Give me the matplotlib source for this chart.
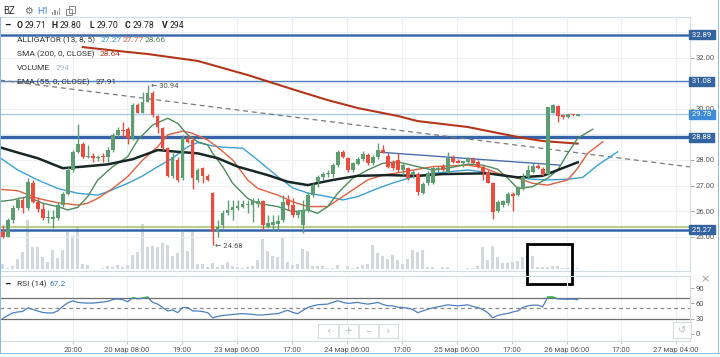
import matplotlib
matplotlib.use('Agg')
import matplotlib.pyplot as plt
import matplotlib.transforms as mtransforms
from matplotlib.patches import Rectangle
import numpy as np

# ---------------- DATA ----------------
opens = [25.19,25.00,25.66,26.11,26.44,26.11,27.11,26.37,26.07,25.72,25.68,25.72,26.24,26.67,27.61,28.33,28.63,28.13,28.16,28.07,
         28.16,28.13,28.39,28.98,29.17,29.20,28.85,30.15,29.85,30.28,30.63,29.72,29.24,28.46,27.38,28.00,27.28,28.85,28.78,27.22,
         27.67,27.38,26.72,25.24,25.46,25.92,26.05,26.11,26.18,26.26,26.26,26.30,26.40,25.40,25.46,25.50,25.66,26.44,26.24,25.85,
         25.46,26.05,26.63,27.15,27.32,27.45,27.45,27.80,28.33,28.07,27.61,27.85,28.03,28.20,27.87,28.10,28.39,28.16,27.93,28.00,
         27.61,27.67,27.41,27.45,26.72,27.09,27.11,27.61,27.77,27.54,28.07,27.97,27.90,27.93,28.03,27.93,27.74,27.54,27.11,26.02,
         26.24,26.31,26.67,26.63,26.85,27.32,27.54,27.77,27.64,27.45,29.85,30.11,29.76,29.69,29.78,29.71]
highs = [25.45,25.75,26.24,26.57,26.57,27.28,27.22,26.57,26.31,26.05,26.05,26.37,26.76,27.74,28.39,29.41,28.72,28.59,28.26,28.20,
         28.26,28.50,29.04,29.30,29.50,29.30,30.22,30.22,30.67,30.94,30.70,29.76,29.30,28.52,28.26,28.13,28.98,28.98,28.91,27.67,
         27.74,27.45,26.76,25.66,26.05,26.44,26.44,26.44,26.44,26.44,26.50,26.50,26.44,25.85,25.85,25.85,26.63,26.63,26.50,26.05,
         26.44,26.76,27.09,27.41,27.54,27.61,27.87,28.39,28.39,28.13,27.93,28.13,28.36,28.26,28.20,28.65,28.59,28.26,28.00,28.26,
         27.87,27.74,27.61,27.54,27.15,27.58,27.74,27.77,27.84,28.30,28.20,28.03,27.97,28.10,28.10,28.00,27.80,27.61,27.15,26.44,
         26.44,26.76,26.76,26.98,27.48,27.80,27.87,27.84,27.74,30.08,30.19,30.15,29.80,29.80,29.80,29.80]
lows = [24.95,24.98,25.55,26.05,25.92,26.05,26.31,25.98,25.66,25.53,25.33,25.66,26.18,26.63,27.54,28.26,28.07,28.07,27.93,27.97,
        27.93,27.93,28.33,28.91,28.91,28.63,28.78,29.82,29.82,30.25,29.69,29.04,28.39,27.35,27.28,27.15,27.22,28.66,26.85,27.15,
        27.09,27.18,24.68,25.00,25.33,25.85,25.66,26.05,26.11,25.92,25.59,26.18,25.27,25.33,25.27,25.27,25.59,26.05,25.79,25.72,
        25.14,25.98,26.57,26.95,27.22,27.35,27.35,27.74,28.07,27.54,27.54,27.80,27.97,27.80,27.80,28.02,28.26,27.67,27.61,27.54,
        27.41,27.22,27.28,26.63,26.67,27.02,27.05,27.54,27.58,27.50,27.87,27.87,27.71,27.87,27.84,27.67,27.22,27.09,25.68,25.98,
        26.15,26.24,26.02,26.59,26.82,27.24,27.48,27.63,27.37,27.41,29.82,29.50,29.60,29.66,29.72,29.70]
closes = [25.00,25.66,26.11,26.44,26.11,27.15,26.37,26.07,25.72,25.78,25.79,26.24,26.67,27.61,28.33,28.63,28.10,28.17,28.07,28.12,
          28.10,28.39,28.98,29.17,29.13,28.85,30.15,29.85,30.28,30.60,29.76,29.28,28.46,27.38,28.10,27.22,28.85,28.72,27.28,27.61,
          27.38,27.22,25.20,25.40,25.92,26.05,26.15,26.20,26.28,26.30,26.44,26.40,25.46,25.55,25.59,25.62,26.37,26.24,25.85,25.98,
          26.05,26.63,27.02,27.32,27.45,27.50,27.80,28.33,28.13,27.61,27.87,28.03,28.23,27.87,28.10,28.39,28.26,27.74,27.67,27.61,
          27.80,27.28,27.54,26.76,27.06,27.51,27.67,27.70,27.61,28.07,27.93,27.90,27.95,28.07,27.90,27.74,27.54,27.11,25.98,26.37,
          26.40,26.67,26.59,26.93,27.35,27.61,27.77,27.67,27.45,30.06,30.15,29.72,29.69,29.78,29.74,29.78]
volumes = [1050,280,700,2240,3640,10290,4690,4690,2590,1540,4130,2380,4130,7840,7000,9030,1050,980,140,140,
           280,700,490,980,490,980,2940,3640,9450,4690,4830,4690,5600,5180,2730,3500,7840,3850,8050,1050,
           1050,490,1400,490,840,1540,630,490,280,490,630,1890,6440,3780,2730,2590,6580,1540,980,1190,
           4200,3780,700,630,630,280,280,840,140,700,280,490,840,1190,5040,3500,2800,2240,2940,1890,
           1190,2100,3990,3640,4130,490,490,70,490,490,140,140,140,280,280,700,4760,2030,4830,2590,
           1400,1330,1540,1680,2590,2940,2730,490,490,490,700,700,280,280,140,294]

sma_idx = [16, 23, 29, 39, 49, 59, 65, 71, 79, 83, 93, 103, 108, 115]
sma_val = [32.41, 32.26, 32.14, 31.87, 31.32, 30.70, 30.34, 30.03, 29.72, 29.52, 29.29, 28.90, 28.74, 28.64]

ema_idx = [-1, 3, 7, 12, 16, 21, 26, 31, 35, 39, 43, 47, 53, 57, 61, 66, 71, 77, 83, 88, 97, 103, 108, 115]
ema_val = [28.52, 28.29, 28.07, 27.68, 27.74, 27.83, 28.03, 28.39, 28.32, 28.26, 28.07, 27.74, 27.41, 27.15, 27.02, 27.22,
           27.38, 27.41, 27.38, 27.45, 27.48, 27.32, 27.38, 27.91]

jaw_idx = [-1, 3, 7, 11, 15, 19, 21, 25, 28, 31, 34, 37, 39, 42, 44, 48, 51, 55, 58, 61, 65, 68, 71, 75, 78, 82, 86, 93,
           96, 99, 103, 106, 109, 113, 116, 119, 123]
jaw_val = [28.15, 27.61, 27.22, 26.89, 26.70, 26.63, 26.76, 27.09, 27.38, 27.74, 28.07, 28.52, 28.68, 28.55, 28.50, 28.46,
           28.00, 27.35, 26.91, 26.71, 26.57, 26.44, 26.57, 26.89, 27.10, 27.34, 27.48, 27.61, 27.54, 27.41, 27.32, 27.25,
           27.22, 27.25, 27.32, 27.80, 28.32]

teeth_idx = [-1, 3, 7, 11, 15, 17, 19, 22, 25, 28, 31, 33, 36, 38, 41, 43, 46, 49, 51, 55, 58, 61, 65, 67, 70, 73, 76, 79,
             86, 93, 96, 99, 103, 106, 109, 113, 115, 117, 120]
teeth_val = [26.86, 26.80, 26.50, 26.33, 26.24, 26.31, 26.50, 26.89, 27.35, 28.00, 28.52, 28.98, 29.13, 29.04, 28.78, 28.50,
             28.00, 27.22, 26.89, 26.63, 26.37, 26.18, 26.18, 26.44, 26.83, 27.22, 27.41, 27.50, 27.74, 27.80, 27.71, 27.48,
             27.29, 27.09, 27.02, 27.22, 27.68, 28.26, 28.71]

lips_idx = [-1, 2, 5, 8, 11, 13, 15, 17, 19, 22, 25, 27, 30, 33, 35, 37, 39, 41, 42, 44, 46, 49, 51, 55, 58, 61, 63, 65,
            67, 70, 73, 76, 79, 83, 86, 89, 93, 96, 99, 101, 103, 106, 109, 111, 113, 115, 118]
lips_val = [26.37, 26.44, 26.57, 26.31, 26.18, 26.05, 26.15, 26.57, 27.22, 27.74, 28.13, 28.78, 29.37, 29.63, 29.43, 28.98,
            28.71, 28.59, 28.26, 27.74, 27.09, 26.50, 26.31, 26.18, 25.98, 26.05, 25.92, 26.18, 26.70, 27.29, 27.61, 27.87,
            27.93, 27.74, 27.61, 27.68, 27.84, 27.80, 27.64, 27.29, 26.89, 26.96, 27.29, 27.61, 28.26, 28.85, 29.20]

rsi_val = [30, 36, 41, 43, 44, 51, 48, 45, 42, 41, 41, 45, 54, 61, 65, 62, 61, 60.6, 60.6, 61.5,
           62.5, 64, 67.4, 68.8, 67.4, 63.3, 70.8, 69, 70.1, 72.2, 62, 58.6, 51.8, 45, 47, 41.6, 51.8, 51.8, 45, 45,
           43.6, 41.6, 31.4, 34, 36, 37, 38, 39, 39.5, 39, 38, 37, 37, 38, 39, 39.5, 43, 46.3, 42, 39.5,
           46, 51.8, 55, 57.2, 58, 58.6, 62, 65.4, 62, 60, 61, 62, 60, 58.6, 60, 62, 58, 55.2, 55.2, 52.5,
           51.8, 50.4, 48, 41.6, 45, 48.4, 51, 53.1, 55, 57.2, 56, 55.2, 56, 57.2, 54, 51.8, 48, 41.6, 31.4, 36.1,
           38.2, 40, 42.9, 45, 51.8, 55, 56.5, 56.5, 53.1, 72.2, 72.2, 68.8, 68.4, 68.1, 68.5, 67.2]

levels = [32.89, 31.08, 29.78, 28.88, 25.27]
level_green = 25.40
trend_idx = [-0.54, 137.46]
trend_val = [31.12, 27.73]
trend2_idx = [75, 111.5]
trend2_val = [28.31, 27.80]
hi_mark = (29, 30.94)
lo_mark = (42, 24.68)

time_ticks = [14.06, 24.86, 35.86, 46.86, 57.86, 68.86, 79.86, 90.86, 101.86, 112.86, 123.66, 134.66]
time_labels = ["20:00", "20 мар 08:00", "19:00", "23 мар 06:00", "17:00", "24 мар 06:00", "17:00",
               "25 мар 06:00", "17:00", "26 мар 06:00", "17:00", "27 мар 04:00"]
price_ticks = [25, 26, 27, 28, 29, 30, 31, 32, 33]
hidden_price_ticks = [29, 31, 33]   # covered by the level labels in the reference
rsi_ticks = [0, 30, 60, 90]

# ---------------- FIGURE ----------------
W, H = 720, 357
plt.rcParams['font.family'] = ['Roboto', 'DejaVu Sans']
fig = plt.figure(figsize=(W / 100, H / 100), dpi=100)
fig.patch.set_facecolor('white')


def fx(px):
    return px / W


def fy(py):
    return 1 - py / H


main_rect = [0, fy(271), fx(690), (271 - 17) / H]
axv = fig.add_axes(main_rect)
ax = fig.add_axes(main_rect, sharex=axv)
ax.patch.set_alpha(0)
axr = fig.add_axes([0, fy(341), fx(690), (341 - 276) / H], sharex=axv)
axr.patch.set_visible(False)

GRID = '#edf0f3'
SPINE = '#d3dbe3'
TXT = '#555555'

# volume
idx = np.arange(len(closes))
axv.bar(idx, volumes, width=0.7, color='#d2d8de', zorder=2)
axv.set_ylim(-357, 52983)
axv.set_yticks([])
axv.set_xticks(time_ticks)
axv.tick_params(axis='x', length=0, labelbottom=False)
axv.grid(axis='x', color=GRID, lw=0.8, zorder=0)
axv.set_axisbelow(True)
for s in axv.spines.values():
    s.set_visible(False)

ax.set_xlim(-0.54, 137.46)
ax.set_ylim(23.664, 33.586)
ax.set_yticks(price_ticks)
ax.set_yticklabels(["" if p in hidden_price_ticks else f"{p:.2f}" for p in price_ticks])
ax.yaxis.tick_right()
ax.tick_params(axis='y', length=3, width=0.6, color='#999999', labelsize=5.5, labelcolor=TXT, pad=1)
ax.tick_params(axis='x', length=0, labelbottom=False)
ax.grid(axis='y', color=GRID, lw=0.8)
ax.set_axisbelow(True)
for k, s in ax.spines.items():
    s.set_color(SPINE)
    s.set_linewidth(0.8)
ax.spines['left'].set_visible(False)

# horizontal drawn levels
ax.axhline(level_green, color='#a9c56f', lw=1.2, zorder=1.5)
lvl_style = {32.89: ('#3b6aab', 1.8), 31.08: ('#4d7ec0', 1.0), 29.78: ('#a8cdf0', 1.0),
             28.88: ('#3565a8', 2.4), 25.27: ('#3565a8', 1.8)}
for lv in levels:
    c, lw = lvl_style[lv]
    ax.axhline(lv, color=c, lw=lw, zorder=1.6)

# trend lines
ax.plot(trend_idx, trend_val, color='#7a7a7a', lw=0.9, ls=(0, (4, 3)), zorder=1.7)
ax.plot(trend2_idx, trend2_val, color='#4a6fb0', lw=1.0, zorder=1.7)

# indicator lines
ax.plot(sma_idx, sma_val, color='#b3361b', lw=1.5, zorder=3)
ax.plot(jaw_idx, jaw_val, color='#3aa0d8', lw=1.0, zorder=3)
ax.plot(teeth_idx, teeth_val, color='#e0603d', lw=1.0, zorder=3)
ax.plot(lips_idx, lips_val, color='#4e8b5c', lw=1.0, zorder=3)
ax.plot(ema_idx, ema_val, color='#182626', lw=1.8, zorder=3.2)

# candles
UP, DN = '#5c9e71', '#ec4b3d'
for i, (o, h, l, c) in enumerate(zip(opens, highs, lows, closes)):
    col = UP if c >= o else DN
    ax.vlines(i, l, h, color=col, lw=1.0, zorder=4)
    body = max(abs(c - o), 0.04)
    ax.bar(i, body, bottom=min(o, c), width=0.72, color=col, zorder=4.1, linewidth=0)

# high/low markers
ax.annotate("← 30.94", xy=hi_mark, xytext=(3, -1), textcoords='offset pixels', fontsize=5.5,
            color=TXT, va='center', ha='left', zorder=5)
ax.annotate("← 24.68", xy=lo_mark, xytext=(2, -1), textcoords='offset pixels', fontsize=5.5,
            color=TXT, va='center', ha='left', zorder=5)

# right-side level labels
bt = mtransforms.blended_transform_factory(ax.transAxes, ax.transData)
box_col = {32.89: '#34649f', 31.08: '#34649f', 29.78: '#3f8bd8', 28.88: '#34649f', 25.27: '#34649f'}
for lv in levels:
    ax.text(1.0, lv, f" {lv:.2f} ", transform=bt, fontsize=5.6, color='white', va='center', ha='left',
            bbox=dict(boxstyle='square,pad=0.18', fc=box_col[lv], ec=box_col[lv]), zorder=6, clip_on=False)

# black box drawn object
ax.add_patch(Rectangle((104.8, 23.14), 9.0, 1.59, fill=False, ec='black', lw=2.0, clip_on=False, zorder=7))

# ---------------- RSI ----------------
axr.set_ylim(-14.6, 114.3)
axr.plot(idx, rsi_val, color='#4b80c3', lw=0.9, zorder=3)
lg, = axr.plot(idx, rsi_val, color='#35b34a', lw=1.3, zorder=3.1)
lg.set_clip_path(Rectangle((-5, 70), 200, 100, transform=axr.transData))
lr, = axr.plot(idx, rsi_val, color='#e03131', lw=1.3, zorder=3.1)
lr.set_clip_path(Rectangle((-5, -50), 200, 80, transform=axr.transData))
axr.axhline(70, color='#6f6f6f', lw=0.9, zorder=2)
axr.axhline(30, color='#6f6f6f', lw=0.9, zorder=2)
axr.axhline(50, color='#8a8a8a', lw=0.9, ls=(0, (3, 2.5)), zorder=2)
axr.set_yticks(rsi_ticks)
axr.yaxis.tick_right()
axr.tick_params(axis='y', length=3, width=0.6, color='#999999', labelsize=5.5, labelcolor=TXT, pad=1)
axr.set_xticks(time_ticks)
axr.set_xticklabels(time_labels)
axr.tick_params(axis='x', length=2, width=0.6, color='#bbbbbb', labelsize=5.5, labelcolor=TXT, pad=2)
axr.grid(axis='x', color=GRID, lw=0.8)
axr.set_axisbelow(True)
for k, s in axr.spines.items():
    s.set_color(SPINE)
    s.set_linewidth(0.8)
axr.spines['left'].set_visible(False)

# ---------------- UI TEXT ----------------
def ftext(x, y, s, **kw):
    kw.setdefault('fontsize', 6)
    kw.setdefault('color', '#333333')
    kw.setdefault('va', 'center')
    kw.setdefault('ha', 'left')
    return fig.text(fx(x), fy(y), s, **kw)

ftext(3, 11, "BZ", fontsize=7, color='#333333')
ftext(24, 11, "⚙", fontsize=7, color='#666666', family=['DejaVu Sans'])
ftext(37, 11, "H1", fontsize=6.5, color='#3a7fd5')
for j, hh in enumerate([3, 5, 4, 7]):
    fig.add_artist(Rectangle((fx(52 + j * 2.3), fy(15)), 1.4 / W, hh / H, transform=fig.transFigure,
                             color='#9a9a9a', lw=0))
fig.add_artist(Rectangle((fx(66), fy(15)), 6 / W, 6 / H, transform=fig.transFigure, fill=False,
                         ec='#8a8a8a', lw=0.7))
fig.add_artist(Rectangle((fx(68.5), fy(12.5)), 6 / W, 6 / H, transform=fig.transFigure, fill=False,
                         ec='#8a8a8a', lw=0.7))

ftext(4, 25, "–", fontsize=7, fontweight='bold', color='#222222')
for xx, s, w in [(17, "O", 'bold'), (25, "29.71", 'normal'), (52, "H", 'bold'), (60, "29.80", 'normal'),
                 (89, "L", 'bold'), (97, "29.70", 'normal'), (125, "C", 'bold'), (133, "29.78", 'normal'),
                 (162, "V", 'bold'), (170, "294", 'normal')]:
    ftext(xx, 25, s, fontsize=6.3, fontweight=w, color='#222222')

ftext(17, 40, "ALLIGATOR (13, 8, 5)")
ftext(101, 40, "27.27", color='#2f9bd6')
ftext(123, 40, "27.77", color='#e0573a')
ftext(145, 40, "28.66", color='#4a8a5a')
ftext(17, 54, "SMA (200, 0, CLOSE)")
ftext(100, 54, "28.64", color='#b5331a')
ftext(17, 68, "VOLUME")
ftext(56, 68, "294", color='#a5b8cb')
ftext(17, 82, "EMA (55, 0, CLOSE)")
ftext(96, 82, "27.91", color='#333333')

ftext(4, 284, "–", fontsize=7, fontweight='bold', color='#222222')
ftext(17, 284, "RSI (14)")
ftext(50, 284, "67.2", color='#3a7fd5')
ftext(705, 279, "×", fontsize=8, color='#999999', ha='center', family=['DejaVu Sans'])

# navigation buttons
fig.add_artist(Rectangle((fx(318), fy(338.3)), 80 / W, 14.3 / H, transform=fig.transFigure,
                         fc='white', ec='#d5dbe1', lw=0.8))
for xd in [338, 358, 378]:
    fig.add_artist(Rectangle((fx(xd), fy(338.3)), 0.001, 14.3 / H, transform=fig.transFigure,
                             fc='#d5dbe1', ec='#d5dbe1', lw=0.4))
for xc, s in [(328, "‹"), (348, "+"), (368, "–"), (388, "›")]:
    ftext(xc, 331, s, fontsize=8, color='#b5bcc4', ha='center', family=['DejaVu Sans'])
fig.add_artist(Rectangle((fx(673.3), fy(338.3)), 17.4 / W, 16.6 / H, transform=fig.transFigure,
                         fc='white', ec='#d5dbe1', lw=0.8))
ftext(682, 330, "↺", fontsize=7, color='#b5bcc4', ha='center', family=['DejaVu Sans'])

# figure border
for r in [(0, fy(353.5), 1 / W, (353.5 - 17) / H), (fx(717.5), fy(353.5), 1.2 / W, 353.5 / H),
          (0, fy(354), 1, 1.2 / H)]:
    fig.add_artist(Rectangle((r[0], r[1]), r[2], r[3], transform=fig.transFigure, color='#8dbbe6', lw=0))

fig.savefig('out.png', dpi=100, facecolor='white')
